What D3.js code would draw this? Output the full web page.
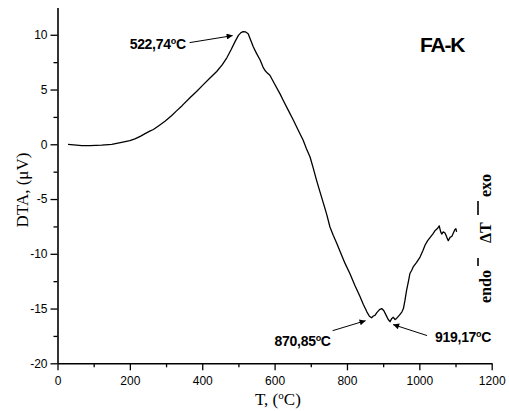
<!DOCTYPE html>
<html>
<head>
<meta charset="utf-8">
<script src="https://cdn.jsdelivr.net/npm/d3@7/dist/d3.min.js"></script>
<style>
  html, body { margin: 0; padding: 0; background: #fff; }
  svg { display: block; }
  .tick text { font-family: "Liberation Sans", Arial, sans-serif; font-size: 12px; fill: #000; }
</style>
</head>
<body>
<svg id="chart" width="509" height="411"></svg>
<script>
// DTA trace of sample FA-K: temperature (°C) and signal (µV)
const temperature = [
  29, 45, 67, 90, 122, 150, 177, 200, 214, 230, 242, 255, 265, 280, 297, 315, 329, 345,
  366, 385, 403, 420, 440, 455, 468, 480, 491, 500, 507, 513, 520, 527, 534, 541, 550,
  560, 568, 573, 580, 587, 600, 615, 624, 638, 652, 665, 679, 688, 698, 707, 716, 725,
  735, 744, 753, 762, 772, 781, 795, 808, 822, 836, 845, 855, 862, 868, 872, 878, 882,
  890, 896, 902, 908, 914, 919, 924, 928, 933, 937, 945, 952, 956, 960, 965, 970, 974,
  979, 983, 992, 1002, 1010, 1016, 1023, 1030, 1037, 1043, 1050, 1055, 1059, 1062, 1066,
  1071, 1076, 1080, 1085, 1090, 1094, 1098, 1101, 1103
];
const dta = [
  0.0, -0.05, -0.12, -0.12, -0.08, 0.0, 0.18, 0.33, 0.49, 0.75, 0.97, 1.2, 1.35, 1.7, 2.1, 2.6, 3.05, 3.55,
  4.25, 4.85, 5.45, 6.0, 6.65, 7.25, 7.9, 8.65, 9.4, 9.95, 10.2, 10.28, 10.26, 10.1, 9.5, 8.9, 8.3,
  7.7, 7.05, 6.76, 6.5, 6.3, 5.5, 4.6, 4.0, 3.1, 2.2, 1.3, 0.37, -0.4, -1.16, -2.2, -3.29, -4.3,
  -5.4, -6.4, -7.55, -8.3, -9.07, -9.8, -10.9, -11.8, -12.9, -13.9, -14.6, -15.3, -15.7, -15.85, -15.7, -15.6, -15.4,
  -15.1, -15.0, -15.2, -15.6, -16.0, -16.2, -15.9, -15.8, -16.0, -15.9, -15.6, -15.3, -15.0, -14.3, -13.3, -12.5, -11.8,
  -11.5, -11.2, -10.8, -10.3, -9.7, -9.2, -8.8, -8.5, -8.2, -7.9, -7.7, -7.45, -8.0, -8.2, -8.0,
  -8.1, -8.5, -8.8, -8.5, -8.4, -8.1, -7.8, -7.7, -8.0
];

// Axis ticks
const xMajorTicks = [0, 200, 400, 600, 800, 1000, 1200];
const xMinorTicks = [100, 300, 500, 700, 900, 1100];
const yMajorTicks = [-20, -15, -10, -5, 0, 5, 10];
const yMinorTicks = [-17.5, -12.5, -7.5, -2.5, 2.5, 7.5];

// Peak temperatures and their labels
const peakTemps = [522.74, 870.85, 919.17];
const peakLabels = ["522,74", "870,85", "919,17"];

const svg = d3.select("#chart");
const plot = { left: 57.5, right: 491.7, top: 7.4, bottom: 363.3 };

const x = d3.scaleLinear().domain([0, 1200]).range([plot.left, plot.right]);
const y = d3.scaleLinear().domain([-20, 12.5]).range([plot.bottom, plot.top]);

// X axis: major ticks with labels, minor ticks without
const gx = svg.append("g").attr("transform", `translate(0,${plot.bottom})`);
gx.call(d3.axisBottom(x).tickValues(xMajorTicks).tickSize(7).tickPadding(6).tickSizeOuter(0)
  .tickFormat(d3.format("d")));
gx.append("g").call(d3.axisBottom(x).tickValues(xMinorTicks).tickSize(4).tickFormat(""))
  .select(".domain").remove();

const gy = svg.append("g").attr("transform", `translate(${plot.left},0)`);
gy.call(d3.axisLeft(y).tickValues(yMajorTicks).tickSize(7).tickPadding(3).tickSizeOuter(0)
  .tickFormat(d3.format("d")));
gy.append("g").call(d3.axisLeft(y).tickValues(yMinorTicks).tickSize(4).tickFormat(""))
  .select(".domain").remove();

svg.selectAll(".domain").attr("stroke", "#000").attr("stroke-width", 1.6);
svg.selectAll(".tick line").attr("stroke", "#000").attr("stroke-width", 1.3);
svg.selectAll(".tick text").text(function () { return this.textContent.replace("\u2212", "-"); });

// Curve
const pts = temperature.map((t, i) => [t, dta[i]]);
svg.append("path")
  .datum(pts)
  .attr("fill", "none")
  .attr("stroke", "#000")
  .attr("stroke-width", 1.3)
  .attr("stroke-linejoin", "round")
  .attr("d", d3.line().x(d => x(d[0])).y(d => y(d[1])));

// Arrowhead marker
svg.append("defs").append("marker")
  .attr("id", "arrow")
  .attr("viewBox", "0 0 10 10")
  .attr("refX", 10).attr("refY", 5)
  .attr("markerWidth", 9).attr("markerHeight", 6)
  .attr("markerUnits", "userSpaceOnUse")
  .attr("orient", "auto")
  .append("path").attr("d", "M0,0 L10,5 L0,10 z").attr("fill", "#000");

// Peak annotations: the arrow tip sits beside the curve at each peak temperature
function valueAt(t) {
  const i = d3.bisector(d => d).left(temperature, t);
  const i0 = Math.max(0, i - 1), i1 = Math.min(temperature.length - 1, i);
  if (i0 === i1) return dta[i0];
  const f = (t - temperature[i0]) / (temperature[i1] - temperature[i0]);
  return dta[i0] + f * (dta[i1] - dta[i0]);
}
const annLayout = [
  { tip: [-14, 3], tail: [-57, 10], text: [-117, 16], anchor: "start" },
  { tip: [-7, 4], tail: [-40, 14], text: [-98, 29], anchor: "start" },
  { tip: [3, 3], tail: [37, 14], text: [45, 20], anchor: "start" }
];
peakTemps.forEach((t, i) => {
  const px = x(t), py = y(valueAt(t));
  const L = annLayout[i];
  svg.append("line")
    .attr("x1", px + L.tail[0]).attr("y1", py + L.tail[1])
    .attr("x2", px + L.tip[0]).attr("y2", py + L.tip[1])
    .attr("stroke", "#000").attr("stroke-width", 1)
    .attr("marker-end", "url(#arrow)");
  const tx = svg.append("text")
    .attr("x", px + L.text[0]).attr("y", py + L.text[1])
    .attr("text-anchor", L.anchor)
    .attr("font-family", "'Liberation Sans', Arial, sans-serif")
    .attr("font-weight", "bold")
    .attr("font-size", 14)
    .attr("letter-spacing", -0.3)
    .attr("fill", "#000");
  tx.append("tspan").text(peakLabels[i]);
  tx.append("tspan").attr("font-size", 9).attr("dy", -5).text("o");
  tx.append("tspan").attr("dy", 5).text("C");
});

// Sample name
svg.append("text")
  .attr("x", 420).attr("y", 52)
  .attr("font-family", "'Liberation Sans', Arial, sans-serif")
  .attr("font-weight", "bold")
  .attr("font-size", 21)
  .attr("letter-spacing", -1.2)
  .attr("fill", "#000")
  .text("FA-K");

// Axis titles
svg.append("text")
  .attr("transform", `translate(28,190) rotate(-90)`)
  .attr("text-anchor", "middle")
  .attr("font-family", "'Liberation Serif', 'Times New Roman', serif")
  .attr("font-size", 17)
  .attr("fill", "#000")
  .text("DTA, (\u03BCV)");

const xt = svg.append("text")
  .attr("x", 255).attr("y", 405)
  .attr("font-family", "'Liberation Serif', 'Times New Roman', serif")
  .attr("font-size", 17)
  .attr("fill", "#000");
xt.append("tspan").text("T, (");
xt.append("tspan").attr("font-size", 11).attr("dy", -6).text("o");
xt.append("tspan").attr("dy", 6).text("C)");

// endo / ΔT / exo direction marker
const dir = svg.append("g").attr("transform", "translate(491,0) rotate(-90)")
  .attr("font-family", "'Liberation Serif', 'Times New Roman', serif")
  .attr("font-weight", "bold")
  .attr("font-size", 16)
  .attr("fill", "#000");
dir.append("text").attr("x", -303).attr("y", 0).text("endo");
dir.append("text").attr("x", -243).attr("y", 0).text("\u0394T");
dir.append("text").attr("x", -197).attr("y", 0).text("exo");
dir.append("line").attr("x1", -266).attr("x2", -258).attr("y1", -13).attr("y2", -13)
  .attr("stroke", "#000").attr("stroke-width", 1.6);
dir.append("line").attr("x1", -215).attr("x2", -201).attr("y1", -13).attr("y2", -13)
  .attr("stroke", "#000").attr("stroke-width", 1.6);
</script>
</body>
</html>
